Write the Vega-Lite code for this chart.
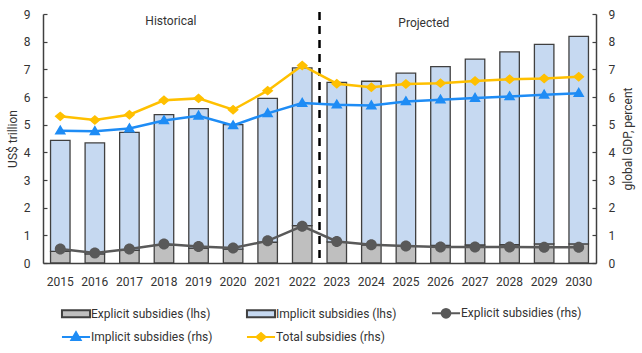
{
  "$schema": "https://vega.github.io/schema/vega-lite/v6.json",
  "width": 553,
  "height": 249,
  "autosize": {"type": "none"},
  "padding": {"left": 43, "top": 14, "right": 46, "bottom": 90},
  "config": {
    "font": "Roboto",
    "view": {"stroke": null},
    "axis": {
      "labelFont": "Roboto", "labelFontSize": 12, "labelColor": "#333333",
      "titleFont": "Roboto", "titleFontSize": 12, "titleFontWeight": "normal", "titleColor": "#333333",
      "domainColor": "#404040", "domainWidth": 1.5, "tickColor": "#404040", "tickWidth": 1.2, "grid": false
    },
    "axisY": {"tickCount": 9, "labelOverlap": false},
    "legend": {
      "labelFont": "Roboto", "labelFontSize": 12, "labelColor": "#333333",
      "orient": "none", "direction": "horizontal", "legendX": 27, "legendY": 293, "columns": 3, "gridAlign": "all",
      "columnPadding": 29, "rowPadding": 6, "symbolSize": 77, "symbolStrokeWidth": 2, "labelOffset": 9, "symbolOpacity": 1
    }
  },
  "datasets": {
    "bars": [
      {"year": "2015", "series": "Explicit subsidies (lhs)", "value": 0.42},
      {"year": "2015", "series": "Implicit subsidies (lhs)", "value": 4.01},
      {"year": "2016", "series": "Explicit subsidies (lhs)", "value": 0.33},
      {"year": "2016", "series": "Implicit subsidies (lhs)", "value": 4.01},
      {"year": "2017", "series": "Explicit subsidies (lhs)", "value": 0.46},
      {"year": "2017", "series": "Implicit subsidies (lhs)", "value": 4.26},
      {"year": "2018", "series": "Explicit subsidies (lhs)", "value": 0.66},
      {"year": "2018", "series": "Implicit subsidies (lhs)", "value": 4.70},
      {"year": "2019", "series": "Explicit subsidies (lhs)", "value": 0.54},
      {"year": "2019", "series": "Implicit subsidies (lhs)", "value": 5.04},
      {"year": "2020", "series": "Explicit subsidies (lhs)", "value": 0.50},
      {"year": "2020", "series": "Implicit subsidies (lhs)", "value": 4.50},
      {"year": "2021", "series": "Explicit subsidies (lhs)", "value": 0.75},
      {"year": "2021", "series": "Implicit subsidies (lhs)", "value": 5.20},
      {"year": "2022", "series": "Explicit subsidies (lhs)", "value": 1.35},
      {"year": "2022", "series": "Implicit subsidies (lhs)", "value": 5.70},
      {"year": "2023", "series": "Explicit subsidies (lhs)", "value": 0.76},
      {"year": "2023", "series": "Implicit subsidies (lhs)", "value": 5.77},
      {"year": "2024", "series": "Explicit subsidies (lhs)", "value": 0.66},
      {"year": "2024", "series": "Implicit subsidies (lhs)", "value": 5.91},
      {"year": "2025", "series": "Explicit subsidies (lhs)", "value": 0.63},
      {"year": "2025", "series": "Implicit subsidies (lhs)", "value": 6.23},
      {"year": "2026", "series": "Explicit subsidies (lhs)", "value": 0.64},
      {"year": "2026", "series": "Implicit subsidies (lhs)", "value": 6.46},
      {"year": "2027", "series": "Explicit subsidies (lhs)", "value": 0.65},
      {"year": "2027", "series": "Implicit subsidies (lhs)", "value": 6.72},
      {"year": "2028", "series": "Explicit subsidies (lhs)", "value": 0.66},
      {"year": "2028", "series": "Implicit subsidies (lhs)", "value": 6.97},
      {"year": "2029", "series": "Explicit subsidies (lhs)", "value": 0.69},
      {"year": "2029", "series": "Implicit subsidies (lhs)", "value": 7.21},
      {"year": "2030", "series": "Explicit subsidies (lhs)", "value": 0.69},
      {"year": "2030", "series": "Implicit subsidies (lhs)", "value": 7.50}
    ],
    "lines": [
      {"year": "2015", "series": "Explicit subsidies (rhs)", "value": 0.51},
      {"year": "2016", "series": "Explicit subsidies (rhs)", "value": 0.36},
      {"year": "2017", "series": "Explicit subsidies (rhs)", "value": 0.51},
      {"year": "2018", "series": "Explicit subsidies (rhs)", "value": 0.69},
      {"year": "2019", "series": "Explicit subsidies (rhs)", "value": 0.60},
      {"year": "2020", "series": "Explicit subsidies (rhs)", "value": 0.54},
      {"year": "2021", "series": "Explicit subsidies (rhs)", "value": 0.80},
      {"year": "2022", "series": "Explicit subsidies (rhs)", "value": 1.33},
      {"year": "2023", "series": "Explicit subsidies (rhs)", "value": 0.78},
      {"year": "2024", "series": "Explicit subsidies (rhs)", "value": 0.66},
      {"year": "2025", "series": "Explicit subsidies (rhs)", "value": 0.61},
      {"year": "2026", "series": "Explicit subsidies (rhs)", "value": 0.58},
      {"year": "2027", "series": "Explicit subsidies (rhs)", "value": 0.58},
      {"year": "2028", "series": "Explicit subsidies (rhs)", "value": 0.58},
      {"year": "2029", "series": "Explicit subsidies (rhs)", "value": 0.57},
      {"year": "2030", "series": "Explicit subsidies (rhs)", "value": 0.57},
      {"year": "2015", "series": "Implicit subsidies (rhs)", "value": 4.78},
      {"year": "2016", "series": "Implicit subsidies (rhs)", "value": 4.76},
      {"year": "2017", "series": "Implicit subsidies (rhs)", "value": 4.86},
      {"year": "2018", "series": "Implicit subsidies (rhs)", "value": 5.15},
      {"year": "2019", "series": "Implicit subsidies (rhs)", "value": 5.32},
      {"year": "2020", "series": "Implicit subsidies (rhs)", "value": 4.97},
      {"year": "2021", "series": "Implicit subsidies (rhs)", "value": 5.41},
      {"year": "2022", "series": "Implicit subsidies (rhs)", "value": 5.78},
      {"year": "2023", "series": "Implicit subsidies (rhs)", "value": 5.72},
      {"year": "2024", "series": "Implicit subsidies (rhs)", "value": 5.69},
      {"year": "2025", "series": "Implicit subsidies (rhs)", "value": 5.84},
      {"year": "2026", "series": "Implicit subsidies (rhs)", "value": 5.90},
      {"year": "2027", "series": "Implicit subsidies (rhs)", "value": 5.96},
      {"year": "2028", "series": "Implicit subsidies (rhs)", "value": 6.02},
      {"year": "2029", "series": "Implicit subsidies (rhs)", "value": 6.08},
      {"year": "2030", "series": "Implicit subsidies (rhs)", "value": 6.14},
      {"year": "2015", "series": "Total subsidies (rhs)", "value": 5.30},
      {"year": "2016", "series": "Total subsidies (rhs)", "value": 5.17},
      {"year": "2017", "series": "Total subsidies (rhs)", "value": 5.36},
      {"year": "2018", "series": "Total subsidies (rhs)", "value": 5.88},
      {"year": "2019", "series": "Total subsidies (rhs)", "value": 5.95},
      {"year": "2020", "series": "Total subsidies (rhs)", "value": 5.54},
      {"year": "2021", "series": "Total subsidies (rhs)", "value": 6.23},
      {"year": "2022", "series": "Total subsidies (rhs)", "value": 7.14},
      {"year": "2023", "series": "Total subsidies (rhs)", "value": 6.48},
      {"year": "2024", "series": "Total subsidies (rhs)", "value": 6.35},
      {"year": "2025", "series": "Total subsidies (rhs)", "value": 6.47},
      {"year": "2026", "series": "Total subsidies (rhs)", "value": 6.50},
      {"year": "2027", "series": "Total subsidies (rhs)", "value": 6.58},
      {"year": "2028", "series": "Total subsidies (rhs)", "value": 6.64},
      {"year": "2029", "series": "Total subsidies (rhs)", "value": 6.67},
      {"year": "2030", "series": "Total subsidies (rhs)", "value": 6.73}
    ],
    "one": [{}]
  },
  "layer": [
    {
      "layer": [
        {
          "data": {"name": "bars"},
          "mark": {"type": "bar", "strokeWidth": 1.3},
          "encoding": {
            "x": {
              "field": "year", "type": "ordinal",
              "scale": {"paddingInner": 0.436, "paddingOuter": 0.218},
              "axis": {"title": null, "labelAngle": 0, "ticks": false, "labelPadding": 13}
            },
            "y": {
              "field": "value", "type": "quantitative", "stack": "zero",
              "scale": {"domain": [0, 9], "nice": false},
              "axis": {"orient": "left", "title": "US$ trillion", "tickSize": -4, "labelPadding": 17, "titlePadding": 4}
            },
            "color": {
              "field": "series", "type": "nominal",
              "scale": {
                "domain": ["Explicit subsidies (lhs)", "Implicit subsidies (lhs)", "Explicit subsidies (rhs)", "Implicit subsidies (rhs)", "Total subsidies (rhs)"],
                "range": ["#bfbfbf", "#c6d9f1", "#595959", "#1e8cf5", "#ffc000"]
              },
              "legend": {"title": null}
            },
            "stroke": {
              "field": "series", "type": "nominal",
              "scale": {
                "domain": ["Explicit subsidies (lhs)", "Implicit subsidies (lhs)", "Explicit subsidies (rhs)", "Implicit subsidies (rhs)", "Total subsidies (rhs)"],
                "range": ["#404040", "#404040", "#595959", "#1e8cf5", "#ffc000"]
              },
              "legend": {"title": null}
            },
            "order": {"field": "series", "type": "nominal"}
          }
        },
        {
          "data": {"name": "one"},
          "mark": {"type": "rule", "strokeDash": [8, 6], "strokeWidth": 2.5, "color": "#000000"},
          "encoding": {
            "x": {"datum": "2022", "type": "ordinal", "bandPosition": 1.387},
            "y": {"datum": 9.07, "type": "quantitative"},
            "y2": {"datum": 0}
          }
        },
        {
          "data": {"name": "one"},
          "mark": {"type": "text", "text": "Historical", "fontSize": 12, "color": "#333333", "font": "Roboto", "baseline": "middle"},
          "encoding": {
            "x": {"datum": "2018", "type": "ordinal", "bandPosition": 0.855},
            "y": {"datum": 8.75, "type": "quantitative"}
          }
        },
        {
          "data": {"name": "one"},
          "mark": {"type": "text", "text": "Projected", "fontSize": 12, "color": "#333333", "font": "Roboto", "baseline": "middle"},
          "encoding": {
            "x": {"datum": "2025", "type": "ordinal", "bandPosition": 1.42},
            "y": {"datum": 8.68, "type": "quantitative"}
          }
        }
      ]
    },
    {
      "data": {"name": "lines"},
      "layer": [
        {
          "mark": {"type": "line", "strokeWidth": 2.5},
          "encoding": {
            "x": {"field": "year", "type": "ordinal"},
            "y": {
              "field": "value", "type": "quantitative",
              "scale": {"domain": [0, 9], "nice": false},
              "axis": {"orient": "right", "title": "global GDP, percent", "tickSize": -4, "labelPadding": 16, "titlePadding": 8, "titleAngle": 270, "titleBaseline": "top"}
            },
            "stroke": {"field": "series", "type": "nominal", "legend": {"title": null}}
          }
        },
        {
          "mark": {"type": "point", "filled": true, "opacity": 1, "size": 121},
          "encoding": {
            "x": {"field": "year", "type": "ordinal"},
            "y": {"field": "value", "type": "quantitative"},
            "color": {"field": "series", "type": "nominal", "legend": {"title": null}},
            "shape": {
              "field": "series", "type": "nominal",
              "scale": {
                "domain": ["Explicit subsidies (lhs)", "Implicit subsidies (lhs)", "Explicit subsidies (rhs)", "Implicit subsidies (rhs)", "Total subsidies (rhs)"],
                "range": [
                  "M-3.2,-0.8H3.2V0.8H-3.2Z",
                  "M-3.2,-0.8H3.2V0.8H-3.2Z",
                  "M-3.2,0H3.2M-1,0A1,1,0,1,1,1,0A1,1,0,1,1,-1,0Z",
                  "M-3.2,0H3.2M-1.05,0.7L0,-1.1L1.05,0.7Z",
                  "M-3.2,0H3.2M-1.05,0L0,-0.9L1.05,0L0,0.9Z"
                ]
              },
              "legend": {"title": null}
            }
          }
        }
      ]
    }
  ],
  "resolve": {"scale": {"y": "independent"}}
}
